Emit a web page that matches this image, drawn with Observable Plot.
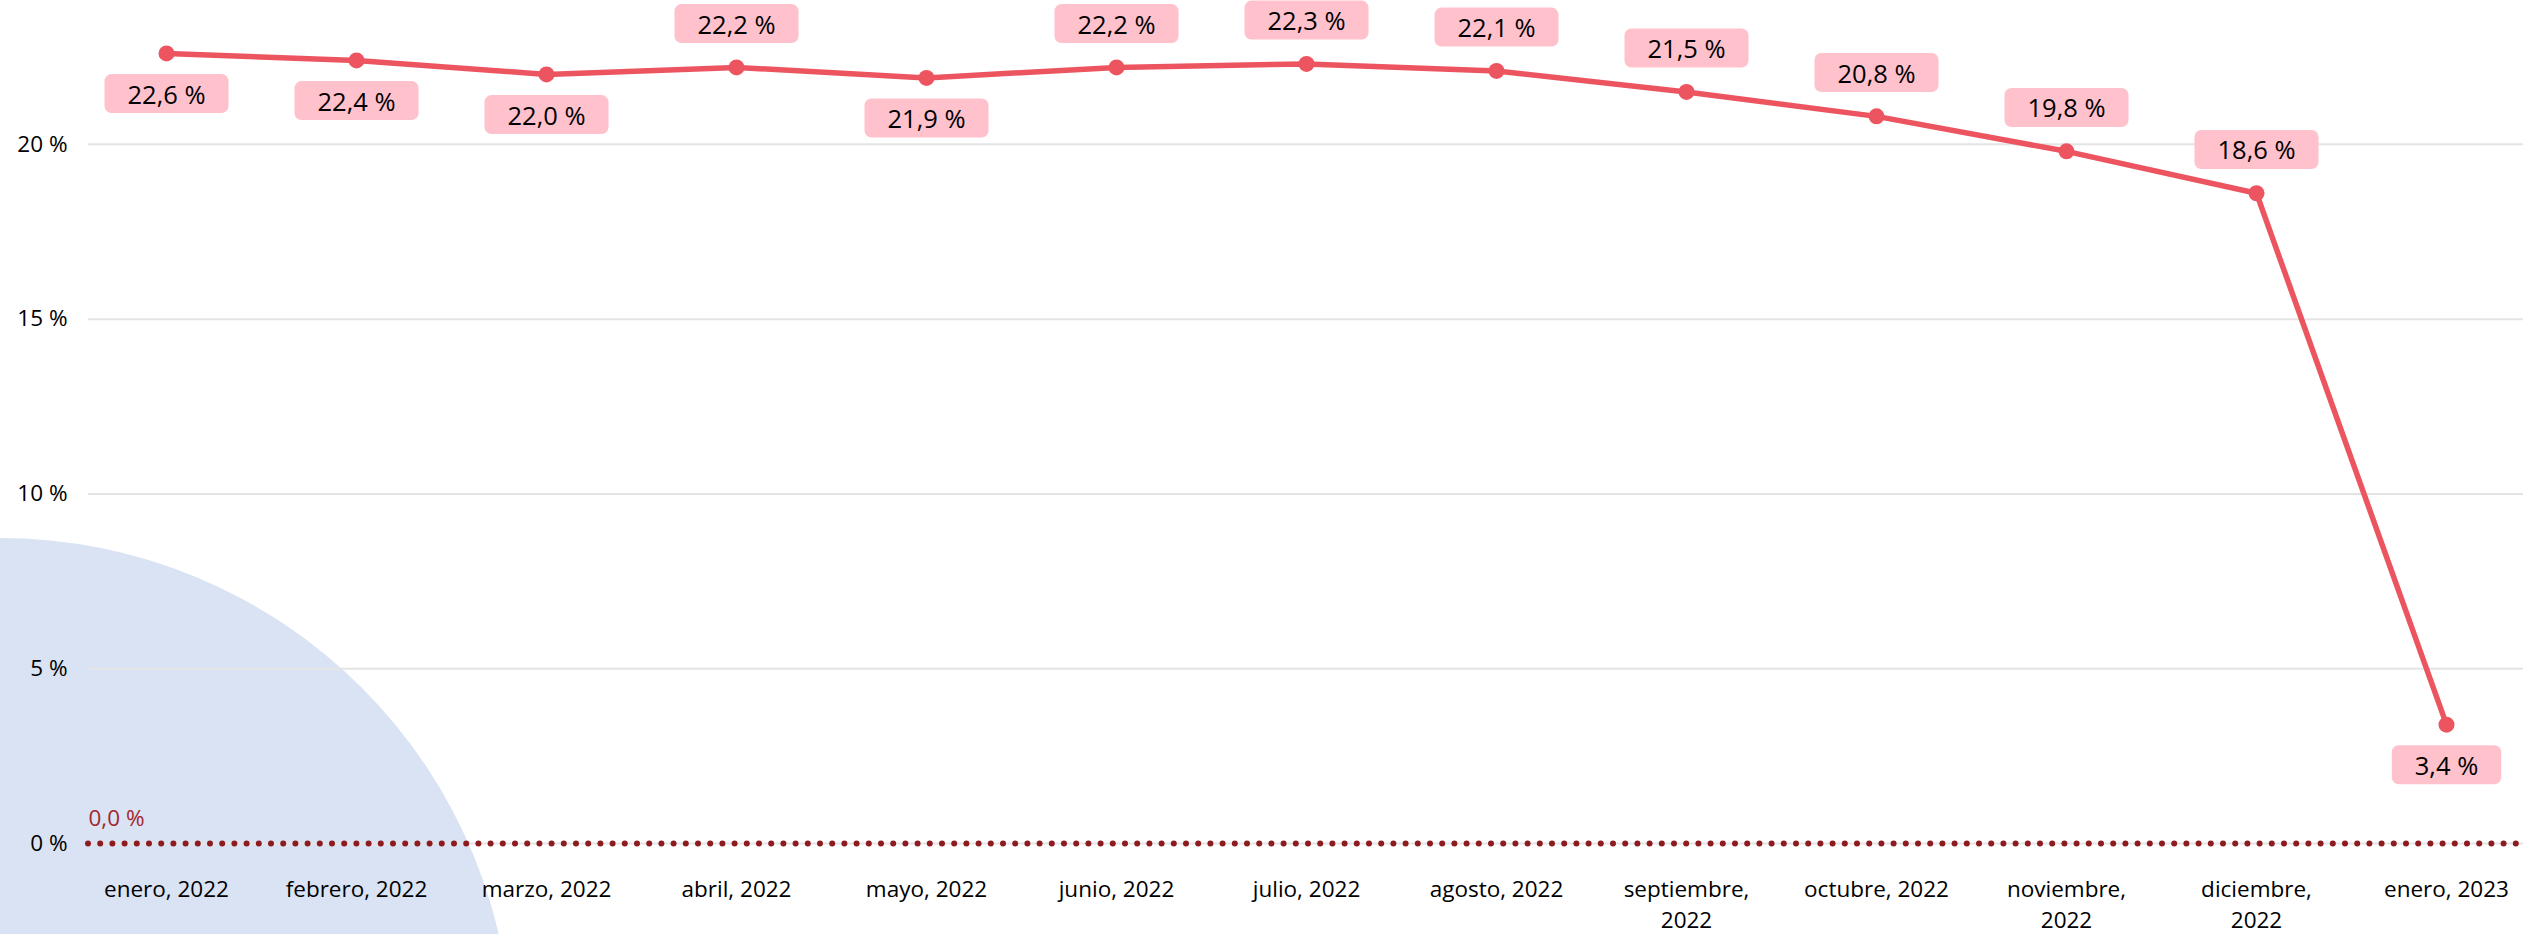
<!DOCTYPE html>
<html><head><meta charset="utf-8">
<script src="https://cdn.jsdelivr.net/npm/d3@7"></script>
<script src="https://cdn.jsdelivr.net/npm/@observablehq/plot@0.6"></script>
<style>
html,body{margin:0;padding:0;background:#fff;overflow:hidden;}
#wrap{position:relative;width:2538px;height:934px;overflow:hidden;}
#blob{position:absolute;left:-512px;top:538px;width:1024px;height:1024px;border-radius:50%;background:#dae3f3;}
#chart{position:absolute;left:0;top:0;}
</style></head>
<body><div id="wrap"><div id="blob"></div><div id="chart"></div></div>
<script>
const months = ["enero, 2022","febrero, 2022","marzo, 2022","abril, 2022","mayo, 2022","junio, 2022","julio, 2022","agosto, 2022","septiembre, 2022","octubre, 2022","noviembre, 2022","diciembre, 2022","enero, 2023"];
const tickLabels = ["enero, 2022","febrero, 2022","marzo, 2022","abril, 2022","mayo, 2022","junio, 2022","julio, 2022","agosto, 2022","septiembre,\n2022","octubre, 2022","noviembre,\n2022","diciembre,\n2022","enero, 2023"];
const values = [22.6, 22.4, 22.0, 22.2, 21.9, 22.2, 22.3, 22.1, 21.5, 20.8, 19.8, 18.6, 3.4];
const yTicks = [0, 5, 10, 15, 20];
const baseline = [0];

const labelSide = ["below","below","below","above","below","above","above","above","above","above","above","above","below"];

const fmt = v => v.toFixed(1).replace(".", ",") + " %";
const data = months.map((m, i) => ({month: m, value: values[i], side: labelSide[i]}));
const tickMap = new Map(months.map((m, i) => [m, tickLabels[i]]));

const font = "'Open Sans', 'Noto Sans', sans-serif";

const plot = Plot.plot({
  width: 2538,
  height: 934,
  marginLeft: 88,
  marginRight: 15,
  marginTop: 4,
  marginBottom: 91,
  style: {background: "transparent", fontFamily: font, overflow: "visible", color: "#000"},
  x: {type: "point", domain: months, padding: 0.394, label: null},
  y: {domain: [0, 24], label: null},
  marks: [
    Plot.gridY(yTicks, {stroke: "#e4e4e4", strokeOpacity: 1, strokeWidth: 2}),
    Plot.axisY(yTicks, {tickSize: 0, tickPadding: 21, fontSize: 22.5, tickFormat: d => d + " %", fill: "#000", label: null}),
    Plot.axisX({tickSize: 0, tickPadding: 32, fontSize: 22.5, lineHeight: 1.36, tickFormat: d => tickMap.get(d), fill: "#000", label: null}),
    Plot.ruleY(baseline, {stroke: "#8e1b20", strokeWidth: 6, strokeDasharray: "0 12.2", strokeLinecap: "round"}),
    Plot.text(baseline, {y: d => d, frameAnchor: "left", textAnchor: "start", dy: -25, text: d => fmt(d), fill: "#a2282d", fontSize: 22.5}),
    Plot.line(data, {x: "month", y: "value", stroke: "#ec5560", strokeWidth: 5.5, strokeLinejoin: "round"}),
    Plot.dot(data, {x: "month", y: "value", r: 8, fill: "#ec5560"}),
    Plot.text(data.filter(d => d.side === "below"), {x: "month", y: "value", dy: 42, text: d => fmt(d.value), fontSize: 25.5, fill: "#000", ariaDescription: "value-labels"}),
    Plot.text(data.filter(d => d.side === "above"), {x: "month", y: "value", dy: -42, text: d => fmt(d.value), fontSize: 25.5, fill: "#000", ariaDescription: "value-labels"})
  ]
});

document.getElementById("chart").appendChild(plot);

// pink rounded boxes behind the value labels
const NS = "http://www.w3.org/2000/svg";
const labelTexts = [];
plot.querySelectorAll('[aria-description="value-labels"]').forEach(el => {
  if (el.tagName.toLowerCase() === "text") labelTexts.push(el);
  else el.querySelectorAll("text").forEach(t => labelTexts.push(t));
});
labelTexts.forEach(t => {
  const bb = t.getBBox();
  const cy = bb.y + bb.height / 2;
  const r = document.createElementNS(NS, "rect");
  r.setAttribute("x", bb.x - 23);
  r.setAttribute("y", cy - 19.5);
  r.setAttribute("width", bb.width + 46);
  r.setAttribute("height", 39);
  r.setAttribute("rx", 7);
  r.setAttribute("fill", "#ffc1cc");
  if (t.getAttribute("transform")) r.setAttribute("transform", t.getAttribute("transform"));
  t.parentNode.insertBefore(r, t);
});
</script>
</body></html>
